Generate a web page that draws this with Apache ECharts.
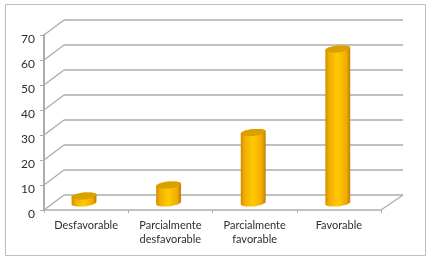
<!DOCTYPE html>
<html>
<head>
<meta charset="utf-8">
<style>html,body{margin:0;padding:0;background:#fff}#c{width:430px;height:260px}</style>
<script src="https://cdn.jsdelivr.net/npm/echarts@6/dist/echarts.min.js"></script>
</head>
<body>
<div id="c"></div>
<script>
const categories = ['Desfavorable', 'Parcialmente\ndesfavorable', 'Parcialmente\nfavorable', 'Favorable'];
const values = [2.8, 7.2, 28.2, 61.6];
const yTicks = [0, 10, 20, 30, 40, 50, 60, 70];
const GRID_COLOR = '#adadad';
const DEPTH_X = 20, DEPTH_Y = 15;
const RX = 12.5, RY = 3.4, TILT = -6 * Math.PI / 180;

function ellipsePoint(cx, cy, t) {
  const x = RX * Math.cos(t), y = RY * Math.sin(t);
  return [cx + x * Math.cos(TILT) - y * Math.sin(TILT), cy + x * Math.sin(TILT) + y * Math.cos(TILT)];
}
function renderCylinder(params, api) {
  const top = api.coord([api.value(0), api.value(1)]);
  const base = api.coord([api.value(0), 0]);
  const pts = [];
  for (let i = 0; i <= 24; i++) pts.push(ellipsePoint(base[0], base[1], Math.PI - Math.PI * i / 24));
  for (let i = 0; i <= 24; i++) pts.push(ellipsePoint(top[0], top[1], -Math.PI * i / 24));
  const lid = [];
  for (let i = 0; i < 48; i++) lid.push(ellipsePoint(top[0], top[1], 2 * Math.PI * i / 48));
  return {
    type: 'group',
    children: [
      { type: 'polygon', shape: { points: pts }, style: {
          fill: new echarts.graphic.LinearGradient(0, 0, 1, 0, [
            { offset: 0, color: '#cf8e00' },
            { offset: 0.15, color: '#f2ad00' },
            { offset: 0.5, color: '#ffcb00' },
            { offset: 0.85, color: '#f0aa00' },
            { offset: 1, color: '#b97f00' }
          ]) } },
      { type: 'polygon', shape: { points: lid }, style: { fill: '#d9a000' } }
    ]
  };
}
function renderDepth(params, api) {
  const p = api.coord([0, api.value(0)]);
  const x = params.coordSys.x;
  return { type: 'line', shape: { x1: x, y1: p[1], x2: x + DEPTH_X, y2: p[1] - DEPTH_Y },
    style: { stroke: GRID_COLOR, lineWidth: 1.3 } };
}
function renderFloorRight(params, api) {
  const p = api.coord([0, 0]);
  const x = params.coordSys.x + params.coordSys.width;
  return { type: 'line', shape: { x1: x, y1: p[1], x2: x + DEPTH_X + 2, y2: p[1] - DEPTH_Y },
    style: { stroke: GRID_COLOR, lineWidth: 1.3 } };
}
const hiddenAxis = { show: false };
const chart = echarts.init(document.getElementById('c'), null, { renderer: 'canvas' });
chart.setOption({
  animation: false,
  backgroundColor: '#fff',
  graphic: [{ type: 'rect', shape: { x: 5.5, y: 4.5, width: 420, height: 251 },
    style: { fill: 'none', stroke: '#bdbdbd', lineWidth: 1 }, silent: true }],
  grid: [
    { left: 44, top: 35, width: 337, height: 175 },
    { left: 64, top: 20, width: 339, height: 175 },
    { left: 41.7, top: 28, width: 338.4, height: 175 }
  ],
  xAxis: [
    { gridIndex: 0, type: 'category', data: categories,
      axisLine: { lineStyle: { color: GRID_COLOR, width: 1.5 } },
      axisTick: { show: true, length: 3, lineStyle: { color: GRID_COLOR } },
      axisLabel: { color: '#2e2e2e', fontFamily: 'Lato', fontSize: 11, lineHeight: 14, margin: 8, interval: 0 } },
    { gridIndex: 1, type: 'category', data: categories, ...hiddenAxis },
    { gridIndex: 2, type: 'category', data: categories, ...hiddenAxis }
  ],
  yAxis: [
    { gridIndex: 0, type: 'value', min: 0, max: 70, interval: 10,
      axisLine: { show: true, lineStyle: { color: GRID_COLOR, width: 2 } },
      axisTick: { show: true, length: 4, lineStyle: { color: GRID_COLOR } },
      axisLabel: { color: '#2e2e2e', fontFamily: 'Lato', fontSize: 12, margin: 9, verticalAlign: 'top', lineHeight: 8 },
      splitLine: { show: false } },
    { gridIndex: 1, type: 'value', min: 0, max: 70, interval: 10,
      axisLine: { show: false }, axisTick: { show: false }, axisLabel: { show: false },
      splitLine: { show: true, lineStyle: { color: GRID_COLOR, width: 1.5 } } },
    { gridIndex: 2, type: 'value', min: 0, max: 70, ...hiddenAxis }
  ],
  series: [
    { type: 'custom', xAxisIndex: 0, yAxisIndex: 0, z: 1, silent: true, clip: false,
      data: yTicks.map(v => [v]), encode: { y: 0 }, renderItem: renderDepth },
    { type: 'custom', xAxisIndex: 0, yAxisIndex: 0, z: 1, silent: true, clip: false,
      data: [[0]], encode: { y: 0 }, renderItem: renderFloorRight },
    { type: 'custom', xAxisIndex: 2, yAxisIndex: 2, z: 5, silent: true, clip: false,
      data: categories.map((c, i) => [i, values[i]]), encode: { x: 0, y: 1 }, renderItem: renderCylinder }
  ]
});
</script>
</body>
</html>
